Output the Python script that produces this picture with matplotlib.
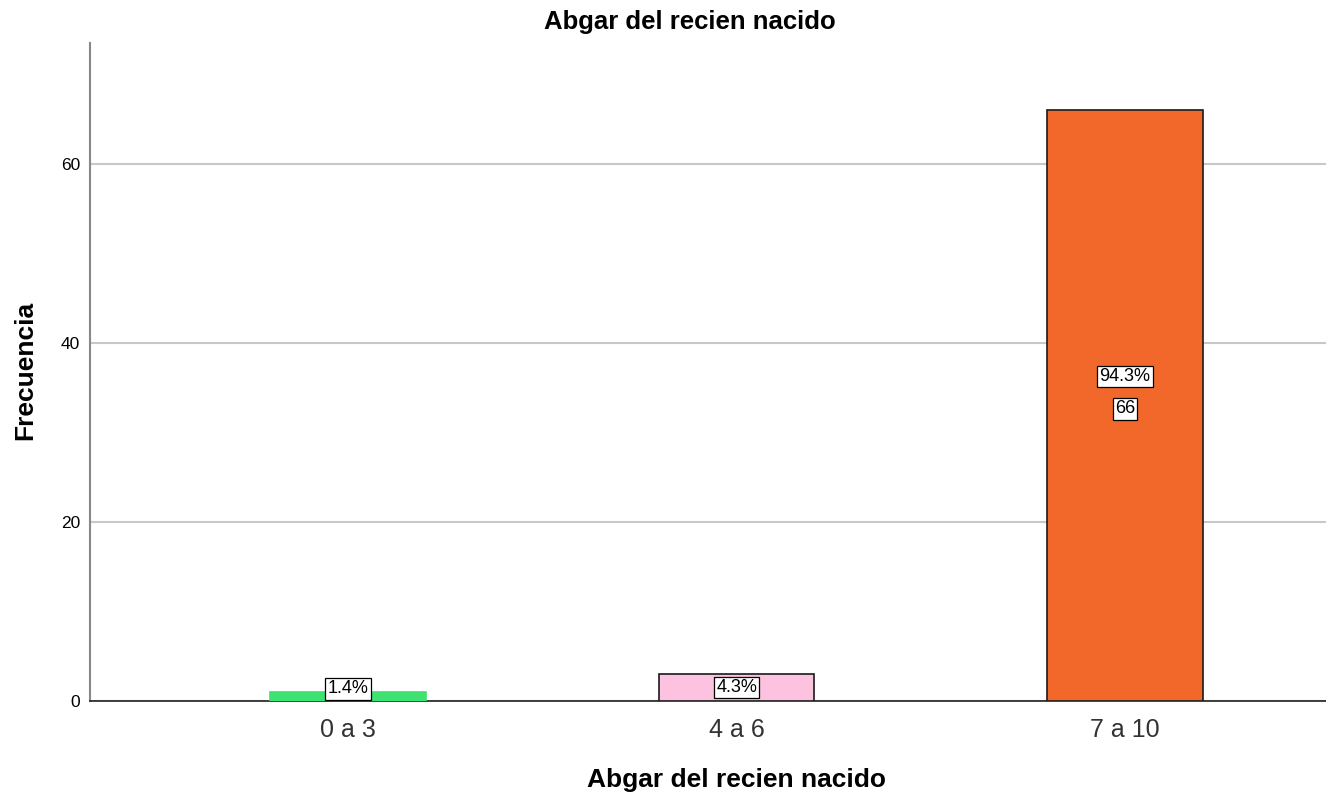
import numpy as np
import matplotlib
matplotlib.use("Agg")
import matplotlib.pyplot as plt

plt.rcParams['font.family'] = ['Liberation Sans', 'DejaVu Sans']

# data
categorias = ['0 a 3', '4 a 6', '7 a 10']
frecuencia = [1, 3, 66]
porcentaje = ['1.4%', '4.3%', '94.3%']
colores = ['#3de271', '#fcc2e0', '#f2682b']

fig = plt.figure(figsize=(13.26, 7.98), dpi=100)
ax = fig.add_axes([0.0679, 0.1216, 0.9321, 0.8246])

x = np.arange(len(categorias))
bars = ax.bar(x, frecuencia, width=0.4, color=colores, edgecolor='#1a1a1a', linewidth=1.2, zorder=3)
bars[0].set_edgecolor(colores[0])

ax.set_xlim(-0.664, 2.517)
ax.set_ylim(0, 73.5)
ax.set_yticks([0, 20, 40, 60])
ax.set_xticks(x)
ax.set_xticklabels(categorias, fontsize=18, color='#333333')
ax.tick_params(axis='y', labelsize=12.5, length=0, pad=7)
ax.tick_params(axis='x', length=0, pad=12)
ax.yaxis.grid(True, color='#c8c8c8', linewidth=1.5, zorder=0)
ax.set_axisbelow(True)

for s in ['top', 'right']:
    ax.spines[s].set_visible(False)
ax.spines['left'].set_color('#888888')
ax.spines['left'].set_linewidth(1.5)
ax.spines['bottom'].set_color('#222222')
ax.spines['bottom'].set_linewidth(1.2)

box = dict(boxstyle='square,pad=0.12', facecolor='white', edgecolor='black', linewidth=0.9)
for xi, h, p in zip(x, frecuencia, porcentaje):
    if h > 10:
        ax.annotate(p, (xi, h / 2), xytext=(0, 21), textcoords='offset points',
                    ha='center', va='center', fontsize=13, bbox=box, zorder=5)
        ax.annotate(str(h), (xi, h / 2), xytext=(0, -2.5), textcoords='offset points',
                    ha='center', va='center', fontsize=13, bbox=box, zorder=5)
    else:
        ax.text(xi, max(h / 2, 1.35), p, ha='center', va='center', fontsize=13, bbox=box, zorder=5)

ax.set_title('Abgar del recien nacido', fontsize=18.5, fontweight='bold', x=0.485, y=1.032, va='center', pad=0)
ax.set_xlabel('Abgar del recien nacido', fontsize=19, fontweight='bold', va='center')
ax.xaxis.set_label_coords(0.523, -0.12)
ax.set_ylabel('Frecuencia', fontsize=19, fontweight='bold', va='center')
ax.yaxis.set_label_coords(-0.0526, 0.503)

fig.savefig('out.png', dpi=100)
